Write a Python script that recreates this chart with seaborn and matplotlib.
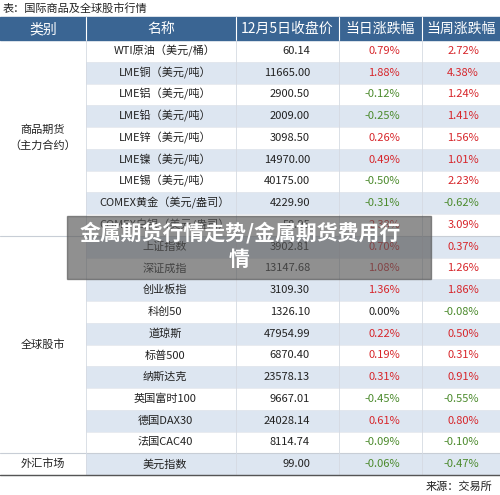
import numpy as np
import matplotlib
matplotlib.use("Agg")
import matplotlib.pyplot as plt
import seaborn as sns
from matplotlib.colors import ListedColormap
from matplotlib.patches import Rectangle

sns.set_theme(style="white")
plt.rcParams['font.family'] = ['Noto Sans CJK SC', 'DejaVu Sans']

names = ["WTI原油（美元/桶）", "LME铜（美元/吨）", "LME铝（美元/吨）", "LME铅（美元/吨）",
         "LME锌（美元/吨）", "LME镍（美元/吨）", "LME锡（美元/吨）", "COMEX黄金（美元/盎司）",
         "COMEX白银（美元/盎司）", "上证指数", "深证成指", "创业板指", "科创50", "道琼斯",
         "标普500", "纳斯达克", "英国富时100", "德国DAX30", "法国CAC40", "美元指数"]
close = ["60.14", "11665.00", "2900.50", "2009.00", "3098.50", "14970.00", "40175.00",
         "4229.90", "58.95", "3902.81", "13147.68", "3109.30", "1326.10", "47954.99",
         "6870.40", "23578.13", "9667.01", "24028.14", "8114.74", "99.00"]
day = [0.79, 1.88, -0.12, -0.25, 0.26, 0.49, -0.50, -0.31, 2.38, 0.70, 1.08, 1.36,
       0.00, 0.22, 0.19, 0.31, -0.45, 0.61, -0.09, -0.06]
week = [2.72, 4.38, 1.24, 1.41, 1.56, 1.01, 2.23, -0.62, 3.09, 0.37, 1.26, 1.86,
        -0.08, 0.50, 0.31, 0.91, -0.55, 0.80, -0.10, -0.47]
headers = ["类别", "名称", "12月5日收盘价", "当日涨跌幅", "当周涨跌幅"]
groups = [("商品期货\n（主力合约）", 0, 9), ("全球股市", 9, 19), ("外汇市场", 19, 20)]

W, H = 500, 495
top, rh = 40, 21.75
cols = [0, 86, 236, 339, 422, 500]
red, green, blue = "#d7262b", "#4b8a2c", "#3a6593"

fig = plt.figure(figsize=(W / 100, H / 100), dpi=100)

# row backgrounds via heatmap
stripes = np.array([[i % 2] * 4 for i in range(len(names))])
hax = fig.add_axes([86 / W, 1 - (top + rh * len(names)) / H, (W - 86) / W, rh * len(names) / H])
sns.heatmap(stripes, ax=hax, cmap=ListedColormap(["white", "#dde6f1"]), cbar=False,
            xticklabels=False, yticklabels=False)

ax = fig.add_axes([0, 0, 1, 1], facecolor="none")
ax.set_xlim(0, W)
ax.set_ylim(H, 0)
ax.axis("off")

ax.text(3, 8, "表：国际商品及全球股市行情", fontsize=8, va="center", color="#222")
ax.add_patch(Rectangle((0, 17), W, top - 17, color=blue))
for i, h in enumerate(headers):
    ax.text((cols[i] + cols[i + 1]) / 2, 29, h, color="white", fontsize=10, ha="center", va="center")
    if i:
        ax.plot([cols[i]] * 2, [17, top], color="white", lw=0.8)

for i, n in enumerate(names):
    y = top + rh * (i + 0.5)
    ax.text(165, y, n, ha="center", va="center", fontsize=8, color="#222")
    ax.text(310, y, close[i], ha="right", va="center", fontsize=8, color="#222")
    for v, x in ((day[i], 400), (week[i], 479)):
        c = red if v > 0 else (green if v < 0 else "#222")
        ax.text(x, y, f"{v:.2f}%", ha="right", va="center", fontsize=8, color=c)
    ax.plot([86, W], [top + rh * (i + 1)] * 2, color="#e4e8ee", lw=0.6)

for label, a, b in groups:
    ax.text(43, top + rh * (a + b) / 2, label, ha="center", va="center", fontsize=8,
            color="#222", linespacing=1.6)
    ax.plot([0, W], [top + rh * b] * 2, color="#c8ced6", lw=0.8)
for x in cols[1:-1]:
    ax.plot([x, x], [top, top + rh * len(names)], color="#d5dae2", lw=0.6)
ax.plot([0, W], [top + rh * len(names)] * 2, color="#555", lw=1)

ax.text(W - 8, 487, "来源：交易所", ha="right", va="center", fontsize=8, color="#222")

# watermark overlay
ax.add_patch(Rectangle((67, 216), 364, 63, color="#555", alpha=0.65, zorder=5))
ax.text(240, 233, "金属期货行情走势/金属期货费用行", color="white", fontsize=15,
        fontweight="bold", ha="center", va="center", zorder=6)
ax.text(239, 259, "情", color="white", fontsize=15, fontweight="bold",
        ha="center", va="center", zorder=6)

fig.savefig("out.png", dpi=100)
